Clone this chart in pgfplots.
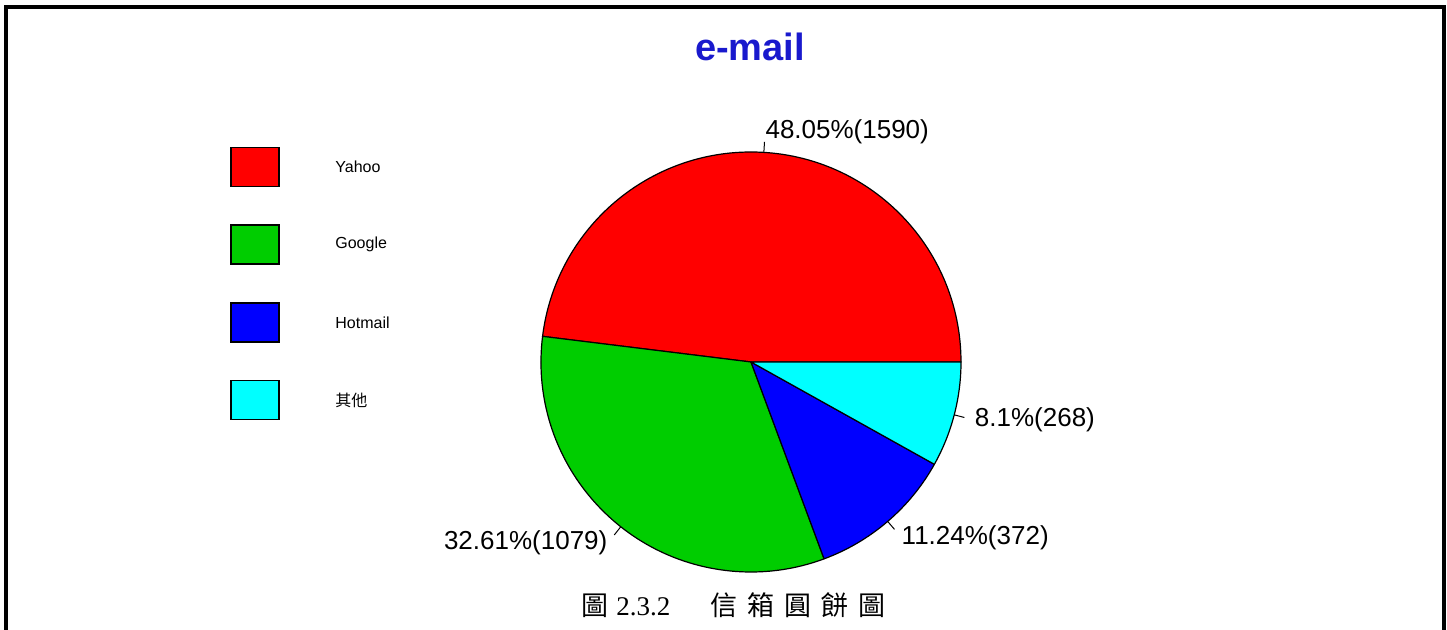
\documentclass[border=0pt]{standalone}
\usepackage{fontspec}
\setmainfont{Liberation Sans}
\newfontfamily\cjk{Noto Sans CJK TC}
\newfontfamily\capserif{Liberation Serif}
\usepackage{pgfplots}
\usepackage{pgfplotstable}
\pgfplotsset{compat=1.18}

\definecolor{slicered}{RGB}{255,0,0}
\definecolor{slicegreen}{RGB}{0,205,0}
\definecolor{sliceblue}{RGB}{0,0,255}
\definecolor{slicecyan}{RGB}{0,255,255}
\definecolor{titleblue}{RGB}{25,25,205}

% mail accounts by provider
\pgfplotstableread{
name count colour
Yahoo 1590 slicered
Google 1079 slicegreen
Hotmail 372 sliceblue
{\cjk 其他} 268 slicecyan
}\maildata

\pgfplotstablegetrowsof{\maildata}
\pgfmathtruncatemacro\lastrow{\pgfplotsretval-1}
\gdef\total{0}
\foreach \i in {0,...,\lastrow}{%
  \pgfplotstablegetelem{\i}{count}\of{\maildata}%
  \pgfmathsetmacro\t{\total+\pgfplotsretval}%
  \xdef\total{\t}%
}

\begin{document}
\begin{tikzpicture}[x=0.5pt, y=-0.5pt]
\useasboundingbox (0,0) rectangle (1447,630);
% frame
\draw[line width=2pt] (6,630) -- (6,7) -- (1444,7) -- (1444,630);

\node[font=\bfseries\fontsize{19}{22}\selectfont, text=titleblue, anchor=base] at (750,61) {e-mail};

\coordinate (piecentre) at (751,362);
\begin{axis}[
    hide axis, clip=false,
    x=105pt, y=105pt,
    xmin=-1, xmax=1, ymin=-1, ymax=1,
    anchor=center, at={(piecentre)},
]
\pgfplotsextra{
  \gdef\cum{0}
  \foreach \i in {0,...,\lastrow}{
    \pgfplotstablegetelem{\i}{count}\of{\maildata}\let\cnt\pgfplotsretval
    \pgfplotstablegetelem{\i}{colour}\of{\maildata}\let\col\pgfplotsretval
    \pgfmathsetmacro\a{\cum/\total*360}
    \pgfmathsetmacro\b{(\cum+\cnt)/\total*360}
    \pgfmathsetmacro\m{(\a+\b)/2}
    \pgfmathsetmacro\pct{\cnt/\total*100}
    \filldraw[fill=\col, draw=black, line width=0.6pt, line join=round]
      (axis cs:0,0) -- (axis cs:{cos(\a)},{sin(\a)})
      arc[start angle=\a, end angle=\b, radius=105pt] -- cycle;
    \draw[line width=0.5pt] (axis cs:{cos(\m)},{sin(\m)}) -- (axis cs:{1.05*cos(\m)},{1.05*sin(\m)});
    \pgfmathsetmacro\side{cos(\m)>0 ? 1 : 0}
    \ifdim\side pt>0.5pt \def\anc{west}\else\def\anc{east}\fi
    \node[anchor=\anc, font=\fontsize{13}{15}\selectfont, inner sep=0pt]
      at (axis cs:{1.1*cos(\m)},{1.1*sin(\m)})
      {\pgfmathprintnumber[fixed,precision=2,assume math mode=true]{\pct}\%(\cnt)};
    \pgfmathsetmacro\c{\cum+\cnt}
    \xdef\cum{\c}
  }
}
\end{axis}

% legend
\foreach \i in {0,...,\lastrow}{
  \pgfplotstablegetelem{\i}{colour}\of{\maildata}\let\col\pgfplotsretval
  \pgfplotstablegetelem{\i}{name}\of{\maildata}\let\nm\pgfplotsretval
  \pgfmathsetmacro\yc{167+77.7*\i}
  \filldraw[fill=\col, draw=black, line width=0.8pt] (231,\yc-19.5) rectangle (279,\yc+19.5);
  \node[anchor=west, font=\fontsize{8}{9}\selectfont, inner sep=0pt] at (335,\yc) {\nm};
}

% caption
\node[anchor=base west, inner sep=0pt, font=\fontsize{13.5}{15}\selectfont] at (581,616)
  {{\cjk 圖}\hspace{4pt}{\capserif 2.3.2}\hspace{20pt}{\cjk 信\hspace{5pt}箱\hspace{5pt}圓\hspace{5pt}餅\hspace{5pt}圖}};
\end{tikzpicture}
\end{document}
